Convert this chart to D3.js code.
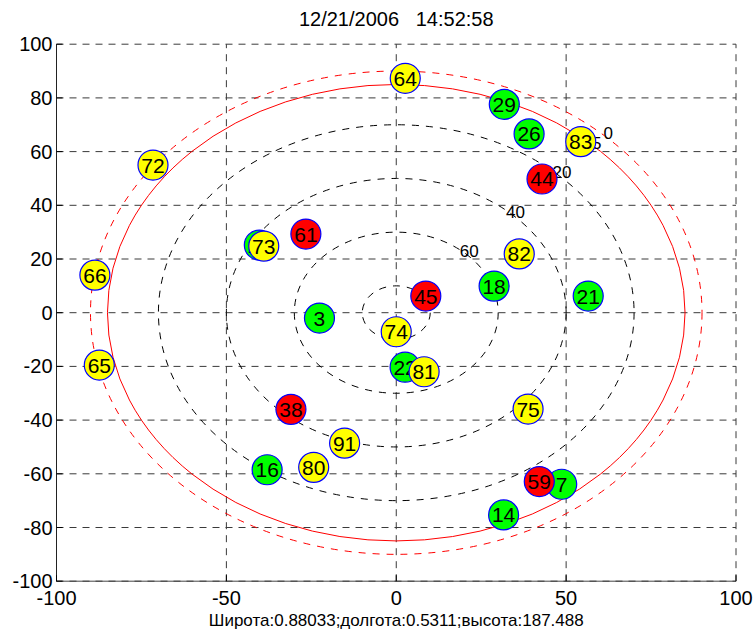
<!DOCTYPE html>
<html>
<head>
<meta charset="utf-8">
<script src="https://cdn.jsdelivr.net/npm/d3@7"></script>
<style>
  html, body { margin: 0; padding: 0; background: #fff; }
  svg { display: block; font-family: "Liberation Sans", Arial, Helvetica, sans-serif; }
</style>
</head>
<body>
<svg id="chart" width="753" height="631"></svg>
<script>
// Sky plot of visible satellites (east/north projection, ring radius = 90 - elevation)
const titleText = "12/21/2006   14:52:58";
const footerText = "Широта:0.88033;долгота:0.5311;высота:187.488";

const xTicks = [-100, -50, 0, 50, 100];
const yTicks = [-100, -80, -60, -40, -20, 0, 20, 40, 60, 80, 100];

// elevation rings (degrees) drawn as black dashed circles
const ringElevations = [80, 60, 40, 20];
// mask rings: solid red and dashed red
const maskElevation = 5;
const horizonElevation = 0;
const ringLabels = ["80", "60", "40", "20", "5", "0"];
const ringLabelElevations = [80, 60, 40, 20, 5, 0];

// satellites: PRN, east, north, status (drawn in this order)
const satPrn    = ["29", "26", "25", "18", "21", "3", "22", "16", "7", "14",
                   "64", "83", "72", "73", "66", "65", "82", "74", "81", "75", "91", "80",
                   "44", "61", "45", "38", "59"];
const satEast   = [31.8, 39.1, -40.3, 28.8, 56.5, -22.6, 2.6, -38.0, 48.7, 31.6,
                   2.65, 54.3, -71.6, -39.0, -88.7, -87.4, 36.2, 0.0, 8.2, 38.8, -15.2, -24.3,
                   42.9, -26.6, 8.7, -31.0, 42.1];
const satNorth  = [77.6, 66.6, 25.2, 9.9, 6.2, -2.0, -20.3, -58.5, -63.9, -75.3,
                   87.3, 63.7, 55.0, 24.8, 14.0, -19.5, 21.9, -7.1, -22.0, -35.9, -48.6, -57.6,
                   49.8, 29.3, 6.2, -36.0, -62.9];
const satStatus = ["g", "g", "g", "g", "g", "g", "g", "g", "g", "g",
                   "y", "y", "y", "y", "y", "y", "y", "y", "y", "y", "y", "y",
                   "r", "r", "r", "r", "r"];
const statusFill = { g: "#00ff00", y: "#ffff00", r: "#ff0000" };

const W = 753, H = 631;
const margin = { left: 56.5, right: 17, top: 44.2, bottom: 49.8 };

const svg = d3.select("#chart");
const x = d3.scaleLinear().domain([-100, 100]).range([margin.left, W - margin.right]);
const y = d3.scaleLinear().domain([-100, 100]).range([H - margin.bottom, margin.top]);

const gridColor = "#3a3a3a";
const dash = "7,6";

// grid lines
svg.append("g").selectAll("line").data(xTicks).join("line")
  .attr("x1", d => x(d)).attr("x2", d => x(d))
  .attr("y1", y(-100)).attr("y2", y(100))
  .attr("stroke", gridColor).attr("stroke-width", 1).attr("stroke-dasharray", dash);
svg.append("g").selectAll("line").data(yTicks).join("line")
  .attr("x1", x(-100)).attr("x2", x(100))
  .attr("y1", d => y(d)).attr("y2", d => y(d))
  .attr("stroke", gridColor).attr("stroke-width", 1).attr("stroke-dasharray", dash);

// axes (left and bottom) with inward ticks
const axisG = svg.append("g");
axisG.append("line").attr("x1", x(-100)).attr("x2", x(-100)).attr("y1", y(-100)).attr("y2", y(100))
  .attr("stroke", "#222").attr("stroke-width", 1);
axisG.append("line").attr("x1", x(-100)).attr("x2", x(100)).attr("y1", y(-100)).attr("y2", y(-100))
  .attr("stroke", "#444").attr("stroke-width", 1);
axisG.selectAll(".xt").data(xTicks).join("line")
  .attr("x1", d => x(d)).attr("x2", d => x(d))
  .attr("y1", y(-100)).attr("y2", y(-100) - 6)
  .attr("stroke", "#000");
axisG.selectAll(".yt").data(yTicks).join("line")
  .attr("x1", x(-100)).attr("x2", x(-100) + 6)
  .attr("y1", d => y(d)).attr("y2", d => y(d))
  .attr("stroke", "#000");

axisG.selectAll(".xl").data(xTicks).join("text")
  .attr("x", d => x(d)).attr("y", y(-100) + 24)
  .attr("text-anchor", "middle").attr("font-size", 20).attr("fill", "#000")
  .text(d => d);
axisG.selectAll(".yl").data(yTicks).join("text")
  .attr("x", x(-100) - 4).attr("y", d => y(d) + 7)
  .attr("text-anchor", "end").attr("font-size", 20).attr("fill", "#000")
  .text(d => d);

// rings
const cx = x(0), cy = y(0);
const rx = e => x(90 - e) - x(0);
const ry = e => y(0) - y(90 - e);

svg.append("g").selectAll("ellipse").data(ringElevations).join("ellipse")
  .attr("cx", cx).attr("cy", cy)
  .attr("rx", d => rx(d)).attr("ry", d => ry(d))
  .attr("fill", "none").attr("stroke", "#000").attr("stroke-width", 1)
  .attr("stroke-dasharray", "7,7");

svg.append("ellipse").attr("cx", cx).attr("cy", cy)
  .attr("rx", rx(maskElevation)).attr("ry", ry(maskElevation))
  .attr("fill", "none").attr("stroke", "#ff0000").attr("stroke-width", 1);
svg.append("ellipse").attr("cx", cx).attr("cy", cy)
  .attr("rx", rx(horizonElevation)).attr("ry", ry(horizonElevation))
  .attr("fill", "none").attr("stroke", "#ff0000").attr("stroke-width", 1)
  .attr("stroke-dasharray", "7,7");

// ring labels along the 47° direction
const labAng = 47 * Math.PI / 180;
svg.append("g").selectAll("text").data(ringLabelElevations).join("text")
  .attr("x", d => x((90 - d + 1.5) * Math.cos(labAng)))
  .attr("y", d => y((90 - d + 1.5) * Math.sin(labAng)) + 6)
  .attr("text-anchor", "middle").attr("font-size", 17).attr("fill", "#000")
  .text((d, i) => ringLabels[i]);

// satellites
const sats = satPrn.map((p, i) => ({ prn: p, e: satEast[i], n: satNorth[i], s: satStatus[i] }));
const satG = svg.append("g").selectAll("g").data(sats).join("g")
  .attr("transform", d => `translate(${x(d.e)},${y(d.n)})`);
satG.append("circle").attr("r", 15)
  .attr("fill", d => statusFill[d.s]).attr("stroke", "#0000ff").attr("stroke-width", 1.2);
satG.append("text").attr("text-anchor", "middle").attr("y", 7.5)
  .attr("font-size", 21).attr("fill", "#000")
  .text(d => d.prn);

// title and footer
svg.append("text").attr("x", x(0)).attr("y", 26)
  .attr("text-anchor", "middle").attr("font-size", 20).attr("fill", "#000")
  .style("white-space", "pre")
  .text(titleText);
svg.append("text").attr("x", x(0)).attr("y", 626)
  .attr("text-anchor", "middle").attr("font-size", 17).attr("fill", "#000")
  .text(footerText);
</script>
</body>
</html>
